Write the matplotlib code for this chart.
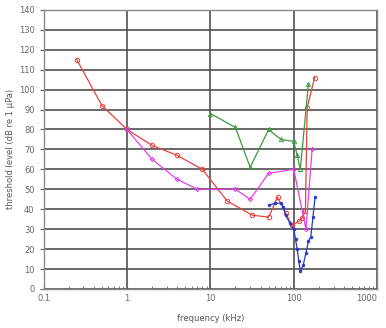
import numpy as np
import matplotlib.pyplot as plt
from matplotlib.ticker import LogLocator, FixedLocator, NullFormatter

# audiogram series, frequency in kHz and threshold in dB re 1 uPa
f_red = [0.25, 0.5, 1, 2, 4, 8, 16, 32, 50, 64, 80, 95, 116, 125, 138, 145, 178]
v_red = [115, 92, 80, 72, 67, 60, 44, 37, 36, 46, 38, 32, 34, 35.5, 39, 91, 106]

f_mag = [1, 2, 4, 7, 20, 30, 50, 100, 140, 166]
v_mag = [80, 65, 55, 50, 50, 45, 58, 60, 30, 70]

f_grn = [10, 20, 30, 50, 70, 100, 110, 120, 150]
v_grn = [88, 81, 61, 80, 75, 74, 67, 60, 103]

f_blu = [50, 60, 70, 75, 80, 90, 100, 105, 110, 115, 120, 130, 140, 150, 160, 170, 180]
v_blu = [42, 43, 43, 41, 37, 33, 30, 25, 20, 14, 9, 12, 18, 24, 26, 36, 46]

fig = plt.figure(figsize=(3.86, 3.28), dpi=100)
ax = fig.add_axes([0.113, 0.119, 0.864, 0.851])

ax.plot(f_red, v_red, color='#e8403c', lw=0.9, marker='o', ms=3.2, mfc='none', mew=0.7)
ax.plot(f_mag, v_mag, color='#e040e8', lw=0.9, marker='D', ms=2.2, mfc='none', mew=0.7)
ax.plot(f_grn, v_grn, color='#3c9a3c', lw=0.9, marker='^', ms=3, mfc='none', mew=0.7)
ax.plot(f_blu, v_blu, color='#2838c8', lw=0.9, marker='o', ms=2, mew=0.5)

ax.set_xscale('log')
ax.set_xlim(0.1, 1000)
ax.set_ylim(0, 140)
ax.yaxis.set_major_locator(FixedLocator(np.arange(0, 141, 10)))
ax.xaxis.set_major_locator(FixedLocator([0.1, 1, 10, 100, 1000]))
ax.xaxis.set_major_formatter(plt.FixedFormatter(['0.1', '1', '10', '100', '1000']))
ax.xaxis.set_minor_locator(LogLocator(base=10, subs=np.arange(2, 10)))
ax.xaxis.set_minor_formatter(NullFormatter())

ax.grid(True, which='major', color='#505050', lw=1.2)
ax.set_axisbelow(True)
for s in ax.spines.values():
    s.set_color('#888888')
    s.set_linewidth(1.0)

ax.tick_params(axis='both', which='major', labelsize=6, colors='#666666', length=3, width=0.8)
ax.tick_params(axis='x', which='minor', direction='in', length=2, color='#666666')
ax.tick_params(axis='x', which='major', length=3, direction='in')
# keep the last decade label inside the figure
ax.get_xticklabels()[-1].set_horizontalalignment('right')

ax.set_xlabel('frequency (kHz)', fontsize=6, color='#555555', labelpad=8)
ax.set_ylabel('threshold level (dB re 1 \u00b5Pa)', fontsize=6, color='#555555', labelpad=3)

fig.savefig('out.png', dpi=100)
